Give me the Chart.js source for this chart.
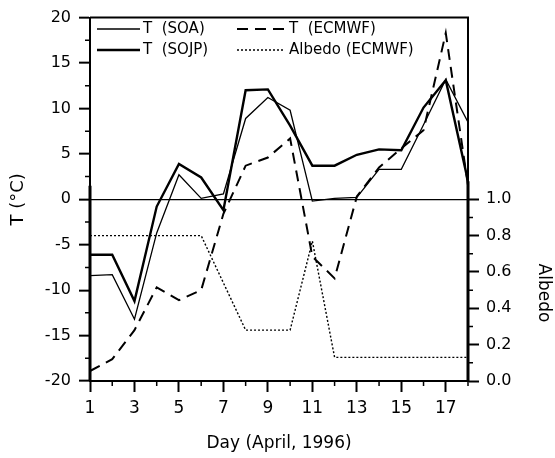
<!DOCTYPE html>
<html>
<head>
<meta charset="utf-8">
<script src="https://cdn.jsdelivr.net/npm/chart.js@4.4.0/dist/chart.umd.min.js"></script>
<style>
  body { margin: 0; background: #fff; }
</style>
</head>
<body>
<canvas id="chart" width="555" height="458"></canvas>
<script>
// values
const days = [1, 2, 3, 4, 5, 6, 7, 8, 9, 10, 11, 12, 13, 14, 15, 16, 17, 18];
const tSOA = [-8.4, -8.3, -13.2, -3.7, 2.7, 0.1, 0.6, 8.9, 11.2, 9.8, -0.2, 0.1, 0.2, 3.3, 3.3, 8.2, 13.2, 8.5];
const tSOJP = [-6.1, -6.1, -11.2, -0.8, 3.9, 2.4, -1.2, 12.0, 12.1, 8.1, 3.7, 3.7, 4.9, 5.5, 5.4, 10.1, 13.1, 2.0];
const tECMWF = [-18.9, -17.6, -14.4, -9.7, -11.1, -10.0, -1.6, 3.7, 4.6, 6.7, -6.3, -8.7, 0.3, 3.5, 5.6, 7.6, 18.3, 1.5];
const albedoECMWF = [0.80, 0.80, 0.80, 0.80, 0.80, 0.80, 0.54, 0.28, 0.28, 0.28, 0.77, 0.13, 0.13, 0.13, 0.13, 0.13, 0.13, 0.13];

const dayTicks = [1, 3, 5, 7, 9, 11, 13, 15, 17];
const tTicks = [-20, -15, -10, -5, 0, 5, 10, 15, 20];
const albedoTicks = [0, 0.2, 0.4, 0.6, 0.8, 1.0];

const legendItems = [
    { label: 'T  (SOA)', width: 1.3, dash: [] },
    { label: 'T  (SOJP)', width: 2.4, dash: [] },
    { label: 'T  (ECMWF)', width: 2, dash: [11, 7] },
    { label: 'Albedo (ECMWF)', width: 1.4, dash: [2, 2] }
];

const family = '"DejaVu Sans", Verdana, sans-serif';

function pts(arr) {
    return days.map((d, i) => ({ x: d, y: arr[i] }));
}

const extras = {
    id: 'extras',
    afterDraw(chart) {
        const { ctx, chartArea: a, scales: { x, y, y2 } } = chart;
        ctx.save();
        ctx.strokeStyle = '#000';
        ctx.fillStyle = '#000';

        // minor ticks
        ctx.lineWidth = 1.5;
        ctx.beginPath();
        for (let v = -17.5; v < 20; v += 5) {
            const py = y.getPixelForValue(v);
            ctx.moveTo(a.left - 5, py); ctx.lineTo(a.left, py);
        }
        for (let d = 2; d <= 18; d += 2) {
            const px = x.getPixelForValue(d);
            ctx.moveTo(px, a.bottom); ctx.lineTo(px, a.bottom + 5);
        }
        for (let v = 0.1; v < 1; v += 0.2) {
            const py = y2.getPixelForValue(v);
            ctx.moveTo(a.right, py); ctx.lineTo(a.right + 5, py);
        }
        ctx.stroke();

        // top frame line
        ctx.lineWidth = 2;
        ctx.beginPath();
        ctx.moveTo(a.left, a.top); ctx.lineTo(a.right + 1, a.top);
        ctx.stroke();

        // heavier spine segments left by the overlaid plots
        ctx.lineWidth = 3;
        ctx.beginPath();
        ctx.moveTo(a.left, y.getPixelForValue(1.5)); ctx.lineTo(a.left, a.bottom);
        ctx.moveTo(a.right, y.getPixelForValue(2)); ctx.lineTo(a.right, a.bottom);
        ctx.stroke();

        // legend
        ctx.font = '15px ' + family;
        ctx.textBaseline = 'middle';
        ctx.textAlign = 'left';
        const cols = [{ x0: 97, x1: 140, tx: 143 }, { x0: 237, x1: 284, tx: 289 }];
        const rows = [29, 50];
        legendItems.forEach((it, i) => {
            const c = cols[Math.floor(i / 2)], ry = rows[i % 2];
            ctx.lineWidth = it.width;
            ctx.setLineDash(it.dash);
            ctx.beginPath();
            ctx.moveTo(c.x0, ry); ctx.lineTo(c.x1, ry);
            ctx.stroke();
            ctx.setLineDash([]);
            ctx.fillText(it.label, c.tx, ry);
        });

        // right axis title
        ctx.translate(543, 293);
        ctx.rotate(Math.PI / 2);
        ctx.textAlign = 'center';
        ctx.font = '17px ' + family;
        ctx.fillText('Albedo', 0, 0);
        ctx.restore();
    }
};

const font = { family: family, size: 16 };

new Chart(document.getElementById('chart'), {
    type: 'line',
    data: {
        datasets: [
            { label: 'T (ECMWF)', data: pts(tECMWF), yAxisID: 'y', borderColor: '#000', borderWidth: 2, borderDash: [11, 7] },
            { label: 'Albedo (ECMWF)', data: pts(albedoECMWF), yAxisID: 'y2', borderColor: '#000', borderWidth: 1.4, borderDash: [2, 2] },
            { label: 'T (SOA)', data: pts(tSOA), yAxisID: 'y', borderColor: '#000', borderWidth: 1.3 },
            { label: 'T (SOJP)', data: pts(tSOJP), yAxisID: 'y', borderColor: '#000', borderWidth: 2.4 }
        ]
    },
    options: {
        responsive: false,
        animation: false,
        layout: { padding: { top: 16, left: 0, right: 0, bottom: 0 } },
        elements: { point: { radius: 0 }, line: { tension: 0, borderJoinStyle: 'miter' } },
        plugins: { legend: { display: false }, tooltip: { enabled: false } },
        scales: {
            x: {
                type: 'linear', min: 1, max: 18,
                afterBuildTicks: axis => { axis.ticks = dayTicks.map(v => ({ value: v })); },
                afterFit: s => { s.height = 77; },
                grid: { drawOnChartArea: false, tickLength: 11, tickColor: '#000', tickWidth: 2 },
                border: { color: '#000', width: 2 },
                ticks: { color: '#000', font: { ...font, size: 17 }, padding: 6, maxRotation: 0 },
                title: { display: true, text: 'Day (April, 1996)', color: '#000', font: { ...font, size: 17 }, padding: { top: 0, bottom: 4 } }
            },
            y: {
                position: 'left', min: -20, max: 20,
                afterBuildTicks: axis => { axis.ticks = tTicks.map(v => ({ value: v })); },
                afterFit: s => { s.width = 90; },
                grid: {
                    color: c => (c.tick && c.tick.value === 0 ? '#000' : 'rgba(0,0,0,0)'),
                    lineWidth: 1.3, tickLength: 11, tickColor: '#000', tickWidth: 2
                },
                border: { color: '#000', width: 2 },
                ticks: { color: '#000', font: font, padding: 8 },
                title: { display: true, text: 'T (°C)', color: '#000', font: { ...font, size: 18 }, padding: { top: 8, bottom: 0 } }
            },
            y2: {
                position: 'right', min: 0, max: 2,
                afterBuildTicks: axis => { axis.ticks = albedoTicks.map(v => ({ value: v })); },
                afterFit: s => { s.width = 87; },
                grid: { drawOnChartArea: false, tickLength: 11, tickColor: '#000', tickWidth: 2 },
                border: { color: '#000', width: 2 },
                ticks: { color: '#000', font: font, padding: 7, callback: v => v.toFixed(1) }
            }
        }
    },
    plugins: [extras]
});
</script>
</body>
</html>
